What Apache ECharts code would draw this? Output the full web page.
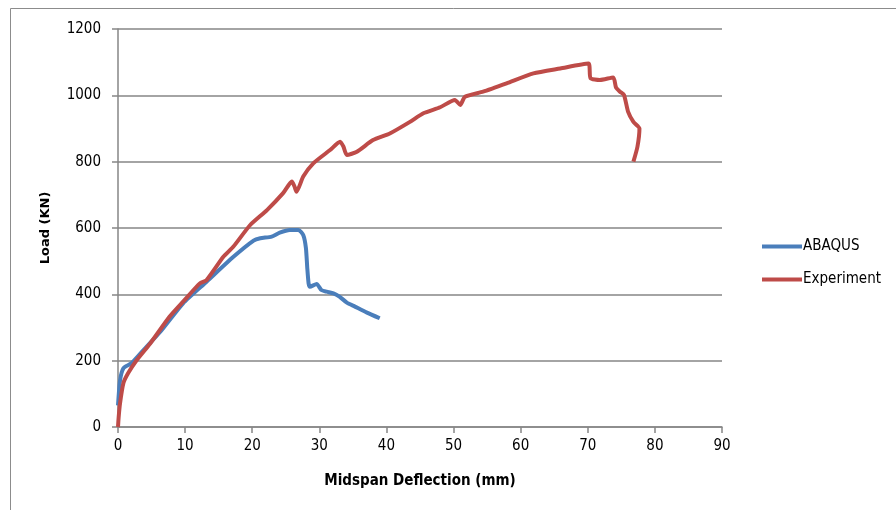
<!DOCTYPE html>
<html><head><meta charset="utf-8">
<script src="https://cdn.jsdelivr.net/npm/echarts@6/dist/echarts.min.js"></script>
<style>html,body{margin:0;padding:0;background:#fff}#c{width:896px;height:510px}</style>
</head><body><div id="c"></div>
<script>
const seriesNames = ['ABAQUS', 'Experiment'];
const xTicks = [0, 10, 20, 30, 40, 50, 60, 70, 80, 90];
const yTicks = [0, 200, 400, 600, 800, 1000, 1200];
const abaqusX = [0, 0.3, 0.8, 2.0, 3.8, 6.3, 9.7, 13.2, 17.2, 20.2, 21.2, 22.9, 24.1, 25.6, 26.9, 27.6, 28.0, 28.2, 28.4, 28.6, 29.6, 30.3, 31.1, 32.1, 33.0, 34.1, 35.3, 37.1, 39.0];
const abaqusY = [65, 140, 177, 192, 232, 287, 373, 438, 513, 562, 569, 574, 586, 594, 594, 579, 540, 480, 433, 423, 431, 413, 408, 403, 393, 375, 363, 345, 328];
const expX = [0, 0.1, 0.3, 0.8, 1.5, 2.8, 4.8, 7.7, 9.7, 12.2, 13.2, 15.7, 17.2, 19.7, 22.2, 24.6, 25.9, 26.3, 26.6, 27.6, 29.1, 31.6, 33.1, 33.6, 34.1, 35.6, 38.0, 40.5, 43.5, 45.5, 48.0, 50.2, 51.0, 51.7, 54.4, 57.9, 61.9, 65.9, 70.1, 70.4, 71.8, 73.8, 74.2, 74.8, 75.4, 76.0, 76.8, 77.7, 77.4, 76.8];
const expY = [0, 30, 71, 132, 162, 202, 252, 333, 378, 433, 443, 513, 544, 609, 654, 705, 740, 725, 709, 755, 795, 835, 860, 845, 820, 830, 865, 885, 920, 946, 964, 986, 971, 996, 1011, 1036, 1066, 1081, 1096, 1052, 1046, 1054, 1024, 1011, 1001, 951, 920, 900, 845, 800];

const zip = (xs, ys) => xs.map((x, i) => [x, ys[i]]);
const font = "'Liberation Sans Narrow','DejaVu Sans Condensed',sans-serif";
const chart = echarts.init(document.getElementById('c'));
chart.setOption({
  animation: false,
  backgroundColor: '#fff',
  graphic: [{type: 'rect', shape: {x: 10.5, y: 8.5, width: 900, height: 520}, style: {fill: 'none', stroke: '#8c8c8c', lineWidth: 1}}],
  grid: {left: 118, top: 29, right: 174, bottom: 83, containLabel: false},
  legend: {
    data: seriesNames, orient: 'vertical', left: 757, top: 234, itemGap: 18,
    itemWidth: 40, itemHeight: 4, icon: 'rect',
    textStyle: {fontFamily: font, fontSize: 15, color: '#000', padding: [0, 0, 0, -4]}
  },
  xAxis: {
    type: 'value', min: 0, max: 90, interval: 10,
    name: 'Midspan Deflection (mm)', nameLocation: 'middle', nameGap: 47,
    nameTextStyle: {fontFamily: font, fontSize: 15, fontWeight: 'bold', color: '#000'},
    axisLine: {lineStyle: {color: '#868686', width: 1.5}},
    axisTick: {show: true, length: 6, lineStyle: {color: '#868686', width: 1.5}},
    axisLabel: {fontFamily: font, fontSize: 15, color: '#000', margin: 12, formatter: v => String(v)},
    splitLine: {show: false}
  },
  yAxis: {
    type: 'value', min: 0, max: 1200, interval: 200,
    name: 'Load (KN)', nameLocation: 'middle', nameGap: 66, nameRotate: 90,
    nameTextStyle: {fontFamily: "'DejaVu Sans',sans-serif", fontSize: 13, fontWeight: 'bold', color: '#000'},
    axisLine: {show: true, lineStyle: {color: '#868686', width: 1.5}},
    axisTick: {show: true, length: 6, lineStyle: {color: '#868686', width: 1.5}},
    axisLabel: {fontFamily: font, fontSize: 15, color: '#000', margin: 17, formatter: v => String(v)},
    splitLine: {show: true, lineStyle: {color: '#868686', width: 1.5}}
  },
  series: [
    {name: seriesNames[0], type: 'line', data: zip(abaqusX, abaqusY), showSymbol: false, smooth: 0.2,
     lineStyle: {color: '#4A7EBB', width: 4}, itemStyle: {color: '#4A7EBB'}},
    {name: seriesNames[1], type: 'line', data: zip(expX, expY), showSymbol: false, smooth: 0.2,
     lineStyle: {color: '#BE4B48', width: 4}, itemStyle: {color: '#BE4B48'}}
  ]
});
</script></body></html>
